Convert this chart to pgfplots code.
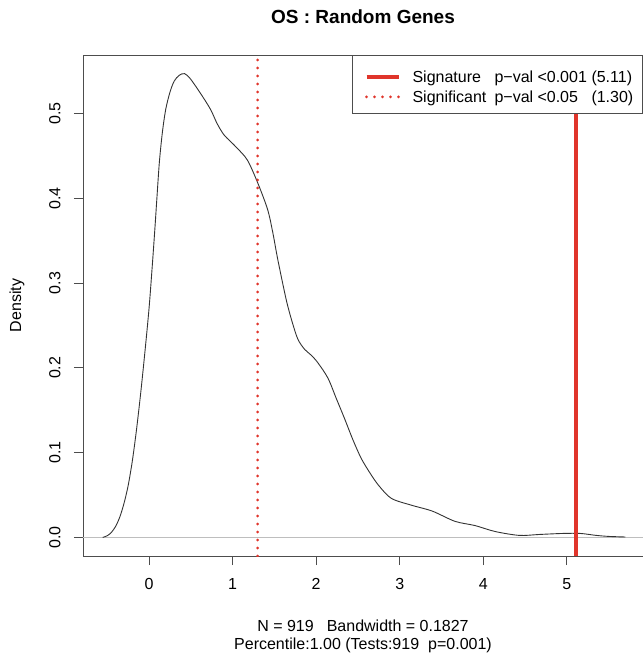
\documentclass[border=0pt]{standalone}
\usepackage{fontspec}
\setmainfont{Liberation Sans}
\usepackage{pgfplots}
\pgfplotsset{compat=1.18}
\definecolor{sigred}{HTML}{E0352B}
\definecolor{boxgray}{HTML}{4D4D4D}
\definecolor{zerogray}{HTML}{BEBEBE}

\pgfplotstableread{
x y
-0.554 0.000
-0.50 0.002
-0.45 0.006
-0.40 0.013
-0.35 0.024
-0.30 0.040
-0.25 0.061
-0.20 0.090
-0.15 0.127
-0.10 0.170
-0.05 0.218
0.00 0.270
0.04 0.322
0.072 0.367
0.096 0.403
0.124 0.443
0.16 0.478
0.20 0.505
0.25 0.525
0.30 0.538
0.36 0.545
0.425 0.547
0.494 0.541
0.614 0.524
0.735 0.505
0.815 0.488
0.895 0.475
0.975 0.467
1.056 0.459
1.177 0.445
1.297 0.419
1.418 0.387
1.48 0.360
1.54 0.328
1.64 0.281
1.71 0.255
1.78 0.234
1.86 0.222
1.94 0.215
2.02 0.206
2.14 0.188
2.24 0.164
2.34 0.140
2.44 0.115
2.54 0.093
2.65 0.075
2.75 0.061
2.90 0.046
3.14 0.038
3.39 0.031
3.66 0.019
3.90 0.014
4.14 0.007
4.43 0.0024
4.67 0.0035
4.95 0.0047
5.16 0.0047
5.35 0.0024
5.50 0.0012
5.70 0.0005
}\densitydata

\begin{document}
\begin{tikzpicture}
  \path[use as bounding box] (-83pt,-104pt) rectangle (559pt,556pt);
  \begin{axis}[
    name=ax,
    at={(0,0)}, anchor=south west,
    scale only axis,
    width=560pt, height=501pt,
    xmin=-0.79, xmax=5.91,
    ymin=-0.0219, ymax=0.569,
    axis line style={boxgray, line width=0.9pt},
    tick style={boxgray, line width=0.9pt},
    tick align=outside, tick pos=left,
    major tick length=9pt,
    xtick={0,1,2,3,4,5},
    ytick={0,0.1,0.2,0.3,0.4,0.5},
    /pgf/number format/assume math mode=true,
    yticklabel={\pgfmathprintnumber[fixed, fixed zerofill, precision=1]{\tick}},
    xticklabel style={font=\fontsize{16}{18}\selectfont},
    yticklabel style={font=\fontsize{16}{18}\selectfont, rotate=90, anchor=south},
    xticklabel shift=10pt,
    yticklabel shift=10pt,
    legend style={
      at={(1,1)}, anchor=north east,
      draw=boxgray, line width=0.9pt, fill=white,
      inner xsep=0pt, inner ysep=9pt,
      font=\fontsize{16}{18}\selectfont,
      nodes={inner xsep=0pt, inner ysep=0pt, text height=18pt, text depth=2pt},
      row sep=0pt,
    },
    legend cell align=left,
    legend image code/.code={
      \path[draw=none] (0pt,-2.5pt) -- (60pt,-2.5pt);
      \draw[#1] (14pt,-2.5pt) -- (46pt,-2.5pt);
    },
  ]
    \addplot[zerogray, line width=0.8pt, forget plot]
      coordinates {(-0.79,0) (5.91,0)};
    \addplot[black!80, line width=0.9pt, smooth, forget plot]
      table[x=x, y=y] {\densitydata};
    \addplot[sigred, line width=4pt]
      coordinates {(5.11,-0.0219) (5.11,0.569)};
    \addlegendentry{\makebox[82pt][l]{Signature}\makebox[43pt][l]{p−val}\makebox[54pt][l]{<0.001}\makebox[51pt][l]{(5.11)}}
    \addplot[sigred, line width=3pt, line cap=round, dash pattern=on 0pt off 8pt]
      coordinates {(1.30,-0.0219) (1.30,0.569)};
    \addlegendentry{\makebox[82pt][l]{Significant}\makebox[43pt][l]{p−val}\makebox[54pt][l]{<0.05}\makebox[51pt][l]{(1.30)}}
  \end{axis}
  \node[font=\bfseries\fontsize{19}{22}\selectfont] at ([yshift=38pt]ax.north) {OS : Random Genes};
  \node[font=\fontsize{16}{18}\selectfont, rotate=90] at ([xshift=-66pt]ax.west) {Density};
  \node[font=\fontsize{16}{18}\selectfont] at ([yshift=-70pt]ax.south) {N = 919\hspace{13pt}Bandwidth = 0.1827};
  \node[font=\fontsize{16}{18}\selectfont] at ([yshift=-89pt]ax.south) {Percentile:1.00 (Tests:919\hspace{9pt}p=0.001)};
\end{tikzpicture}
\end{document}
